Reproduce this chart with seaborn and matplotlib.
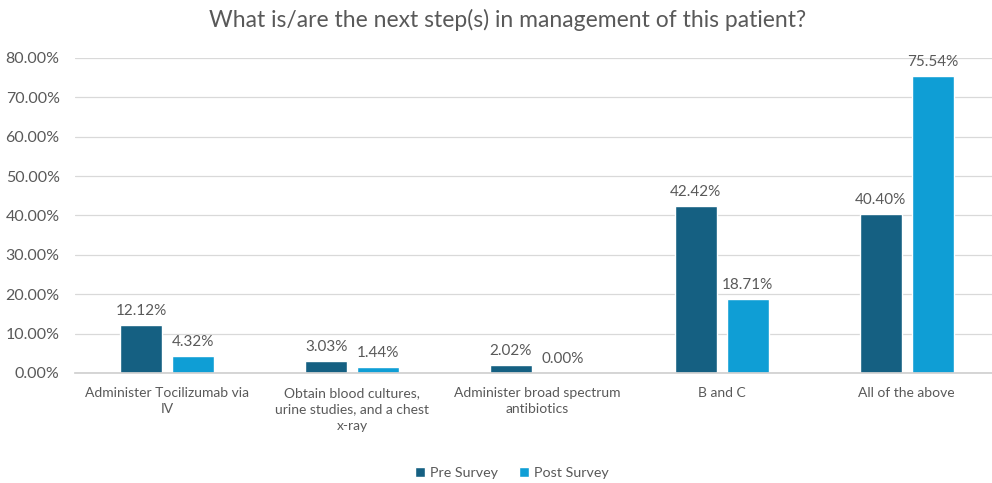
import matplotlib
matplotlib.use("Agg")
import matplotlib.pyplot as plt
from matplotlib.ticker import FuncFormatter
import seaborn as sns
import pandas as pd

categories = [
    "Administer Tocilizumab via\nIV",
    "Obtain blood cultures,\nurine studies, and a chest\nx-ray",
    "Administer broad spectrum\nantibiotics",
    "B and C",
    "All of the above",
]
pre_survey = [12.12, 3.03, 2.02, 42.42, 40.40]
post_survey = [4.32, 1.44, 0.00, 18.71, 75.54]
series = ["Pre Survey", "Post Survey"]
colors = ["#156082", "#0F9ED5"]

df = pd.DataFrame({
    "category": categories * 2,
    "value": pre_survey + post_survey,
    "series": [series[0]] * len(categories) + [series[1]] * len(categories),
})

sns.set_theme(style="white")
plt.rcParams["font.family"] = ["Lato", "DejaVu Sans"]
text_color = "#595959"

fig = plt.figure(figsize=(9.92, 4.83), dpi=100)
ax = fig.add_axes([75 / 992, 0.228, 924 / 992, 0.652])

sns.barplot(data=df, x="category", y="value", hue="series", order=categories,
            hue_order=series, palette=colors, width=0.564, gap=0.195,
            saturation=1, ax=ax, legend=True)

ax.set_ylim(0, 80)
ax.set_yticks(range(0, 81, 10))
ax.yaxis.set_major_formatter(FuncFormatter(lambda v, p: f"{v:.2f}%"))
ax.grid(axis="y", color="#D9D9D9", linewidth=0.9)
ax.set_axisbelow(True)
for s in ["top", "right", "left"]:
    ax.spines[s].set_visible(False)
ax.spines["bottom"].set_color("#D0D0D0")
ax.tick_params(axis="both", length=0, colors=text_color)
ax.tick_params(axis="x", pad=10, labelsize=10)
ax.tick_params(axis="y", pad=11, labelsize=11.5)
for lbl in ax.get_xticklabels():
    lbl.set_linespacing(1.45)
ax.set_xlabel("")
ax.set_ylabel("")

for cont in ax.containers:
    ax.bar_label(cont, labels=[f"{v:.2f}%" for v in cont.datavalues],
                 padding=5, color=text_color, fontsize=11)

fig.text(0.512, 0.958, "What is/are the next step(s) in management of this patient?",
         color=text_color, fontsize=16.5, ha="center", va="center")

ax.get_legend().remove()
handles, labels = ax.get_legend_handles_labels()
leg = fig.legend(handles, labels, loc="center", bbox_to_anchor=(0.516, 0.021),
                 ncol=2, frameon=False, fontsize=10.3, handlelength=0.7,
                 handleheight=0.7, columnspacing=1.5, handletextpad=0.35)
for t in leg.get_texts():
    t.set_color(text_color)

fig.savefig("out.png", dpi=100)
